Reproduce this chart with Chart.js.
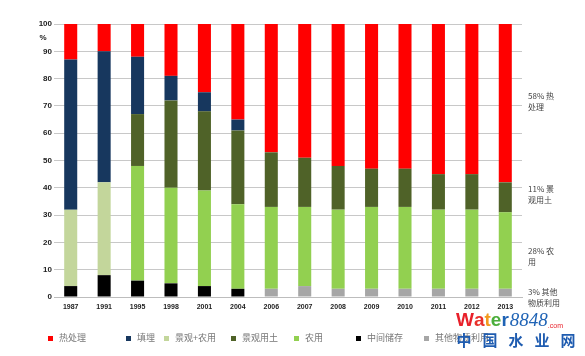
<!DOCTYPE html>
<html><head><meta charset="utf-8">
<script src="https://cdn.jsdelivr.net/npm/chart.js@4"></script>
<style>html,body{margin:0;padding:0;background:#fff;}#wrap{width:585px;height:356px;position:relative}</style>
</head><body><div id="wrap"><canvas id="c"></canvas></div>
<script>
// ---- data ----
const years = ['1987','1991','1995','1998','2001','2004','2006','2007','2008','2009','2010','2011','2012','2013'];
const storage   = [4, 8, 6, 5, 4, 3, 0, 0, 0, 0, 0, 0, 0, 0];      // 中间储存
const other     = [0, 0, 0, 0, 0, 0, 3, 4, 3, 3, 3, 3, 3, 3];      // 其他物质利用
const agri      = [0, 0, 42, 35, 35, 31, 30, 29, 29, 30, 30, 29, 29, 28]; // 农用
const landAgri  = [28, 34, 0, 0, 0, 0, 0, 0, 0, 0, 0, 0, 0, 0];    // 景观+农用
const soil      = [0, 0, 19, 32, 29, 27, 20, 18, 16, 14, 14, 13, 13, 11]; // 景观用土
const landfill  = [55, 48, 21, 9, 7, 4, 0, 0, 0, 0, 0, 0, 0, 0];   // 填埋
const thermal   = [13, 10, 12, 19, 25, 35, 47, 49, 52, 53, 53, 55, 55, 58]; // 热处理
const yTicks    = [0, 10, 20, 30, 40, 50, 60, 70, 80, 90, 100];
const sideNotes = [
  { lines: ['58% 热', '处理'], at: 71.5 },
  { lines: ['11% 景', '观用土'], at: 37.5 },
  { lines: ['28% 农', '用'], at: 15 },
  { lines: ['3% 其他', '物质利用'], at: 0 }
];

// ---- styles ----
const datasets = [
  { label: '中间储存', data: storage, backgroundColor: '#000000' },
  { label: '其他物质利用', data: other, backgroundColor: '#a6a6a6' },
  { label: '农用', data: agri, backgroundColor: '#92d050' },
  { label: '景观+农用', data: landAgri, backgroundColor: '#c3d69b' },
  { label: '景观用土', data: soil, backgroundColor: '#4f6228' },
  { label: '填埋', data: landfill, backgroundColor: '#17375e' },
  { label: '热处理', data: thermal, backgroundColor: '#ff0000' }
].map(d => Object.assign(d, { barPercentage: 0.39, categoryPercentage: 1, borderWidth: 0 }));

const legendOrder = [6, 5, 3, 4, 2, 0, 1];
const legendX = [50, 128, 166, 233, 296, 358, 426];
const CJK = '"Noto Sans CJK SC", "Noto Sans", sans-serif';

const extras = {
  id: 'extras',
  afterDraw(chart) {
    const ctx = chart.ctx, y = chart.scales.y, area = chart.chartArea;
    ctx.save();
    // % label
    ctx.fillStyle = '#222';
    ctx.font = 'bold 8px "Liberation Sans", Arial, sans-serif';
    ctx.textAlign = 'center'; ctx.textBaseline = 'middle';
    ctx.fillText('%', 43, y.getPixelForValue(95));
    // side notes
    ctx.fillStyle = '#444';
    ctx.font = '8px ' + CJK;
    ctx.textAlign = 'left';
    sideNotes.forEach(n => {
      const cy = y.getPixelForValue(n.at);
      n.lines.forEach((t, i) => ctx.fillText(t, area.right + 6, cy + (i - (n.lines.length - 1) / 2) * 11));
    });
    // legend
    ctx.font = '9px ' + CJK;
    ctx.textBaseline = 'middle';
    legendOrder.forEach((di, k) => {
      const ds = chart.data.datasets[di];
      const x = legendX[k], cy = 338;
      ctx.fillStyle = ds.backgroundColor;
      ctx.fillRect(x - 2, cy - 2, 5, 5);
      ctx.fillStyle = '#777';
      ctx.fillText(ds.label, x + 9, cy);
    });
    // watermark
    ctx.textBaseline = 'alphabetic';
    ctx.font = 'bold 19px "Liberation Sans", Arial, sans-serif';
    const letters = [['W','#e8202a'],['a','#e8302a'],['t','#f39a1e'],['e','#4cae3c'],['r','#1f63b5']];
    let wx = 456;
    letters.forEach(([ch, col]) => { ctx.fillStyle = col; ctx.fillText(ch, wx, 326); wx += ctx.measureText(ch).width; });
    ctx.fillStyle = '#1f63b5';
    ctx.font = 'italic 19px "Liberation Serif", serif';
    ctx.fillText('8848', wx + 1, 326);
    wx += ctx.measureText('8848').width + 1;
    ctx.fillStyle = '#e8202a';
    ctx.font = '7px "Liberation Sans", Arial, sans-serif';
    ctx.fillText('.com', wx, 328);
    ctx.fillStyle = '#1f5cb0';
    ctx.font = 'bold 15px ' + CJK;
    ctx.textAlign = 'center'; ctx.textBaseline = 'middle';
    ['中','国','水','业','网'].forEach((ch, i) => ctx.fillText(ch, 464 + i * 26, 340));
    ctx.restore();
  }
};

new Chart(document.getElementById('c'), {
  type: 'bar',
  data: { labels: years, datasets },
  plugins: [extras],
  options: {
    responsive: true, maintainAspectRatio: false, animation: false,
    layout: { padding: { top: 24, right: 63, left: 0, bottom: 0 } },
    plugins: { legend: { display: false }, tooltip: { enabled: false } },
    scales: {
      x: {
        stacked: true,
        grid: { display: false, drawTicks: false },
        border: { display: true, color: '#bdbdbd' },
        ticks: { color: '#222', font: { family: '"Liberation Sans", Arial, sans-serif', size: 7, weight: 'bold' }, padding: 6, maxRotation: 0, autoSkip: false },
        afterFit(s) { s.height = 59; }
      },
      y: {
        stacked: true, min: 0, max: 100,
        afterBuildTicks(s) { s.ticks = yTicks.map(v => ({ value: v })); },
        ticks: { color: '#222', font: { family: '"Liberation Sans", Arial, sans-serif', size: 8, weight: 'bold' }, padding: 2 },
        grid: { color: '#c8c8c8', drawTicks: false },
        border: { display: false },
        afterFit(s) { s.width = 54; }
      }
    }
  }
});
</script></body></html>
